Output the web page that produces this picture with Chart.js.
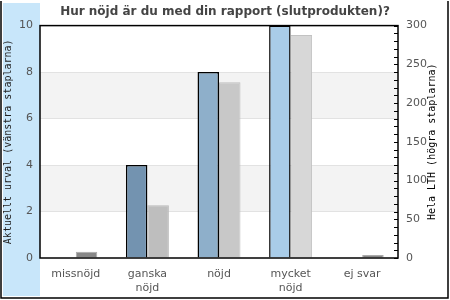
<!DOCTYPE html>
<html>
<head>
<meta charset="utf-8">
<script src="https://cdn.jsdelivr.net/npm/chart.js@4/dist/chart.umd.min.js"></script>
<style>
    html, body { margin: 0; padding: 0; background: #fff; }
    #chart { display: block; }
</style>
</head>
<body>
<canvas id="chart" width="450" height="300"></canvas>
<script>
// Data
var categories = [["missnöjd"], ["ganska", "nöjd"], ["nöjd"], ["mycket", "nöjd"], ["ej svar"]];
var urvalValues = [0, 4, 8, 10, 0];
var lthValues = [8, 68, 227, 288, 4];
var leftTicks = [0, 2, 4, 6, 8, 10];
var rightTicks = [0, 50, 100, 150, 200, 250, 300];

var urvalColors = ["#7393b0", "#7393b0", "#8eafca", "#a9cce8", "#a9cce8"];
var lthColors = ["#888888", "#bebebe", "#c8c8c8", "#d7d7d7", "#888888"];
var lthBorders = ["#aaaaaa", "#b9b9b9", "#bdbdbd", "#c2c2c2", "#aaaaaa"];

var textColor = "#555555";
var monoFont = "'DejaVu Sans Mono', monospace";
var sansFont = "'DejaVu Sans', sans-serif";

//Background, bands, frame and right title

var decorPlugin = {
    id: "decor",
    beforeDraw: function(chart) {
        var ctx = chart.ctx;
        var area = chart.chartArea;
        var y = chart.scales.y;
        ctx.save();
        ctx.fillStyle = "#c8e6fa";
        ctx.fillRect(3, 3, area.left - 3, chart.height - 7);
        // alternating bands
        ctx.fillStyle = "#f3f3f3";
        for (var i = 1; i < leftTicks.length - 1; i += 2) {
            var top = y.getPixelForValue(leftTicks[i + 1]);
            var bottom = y.getPixelForValue(leftTicks[i]);
            ctx.fillRect(area.left, top, area.right - area.left, bottom - top);
        }
        ctx.restore();
    },
    afterDraw: function(chart) {
        var ctx = chart.ctx;
        var area = chart.chartArea;
        var y2 = chart.scales.y2;
        ctx.save();
        // outer frame
        ctx.strokeStyle = "#000";
        ctx.lineWidth = 1.5;
        ctx.beginPath();
        ctx.moveTo(1, 1);
        ctx.lineTo(1, chart.height - 2);
        ctx.lineTo(chart.width - 2, chart.height - 2);
        ctx.lineTo(chart.width - 2, 1);
        ctx.stroke();
        // plot box
        ctx.lineWidth = 1.5;
        ctx.strokeRect(area.left, area.top, area.right - area.left, area.bottom - area.top);
        // inward minor ticks on the right axis
        ctx.lineWidth = 1;
        ctx.beginPath();
        for (var v = rightTicks[0]; v <= rightTicks[rightTicks.length - 1]; v += 10) {
            var py = Math.round(y2.getPixelForValue(v)) + 0.5;
            ctx.moveTo(area.right - 4, py);
            ctx.lineTo(area.right, py);
        }
        ctx.stroke();
        // right axis title, reading upwards
        ctx.fillStyle = "#000";
        ctx.font = "10px " + monoFont;
        ctx.textAlign = "center";
        ctx.textBaseline = "middle";
        ctx.translate(432, (area.top + area.bottom) / 2);
        ctx.rotate(-Math.PI / 2);
        ctx.fillText("Hela LTH (högra staplarna)", 0, 0);
        ctx.restore();
    }
};

var chart = new Chart(document.getElementById("chart"), {
    type: "bar",
    data: {
        labels: categories,
        datasets: [
            {
                label: "Aktuellt urval",
                data: urvalValues,
                yAxisID: "y",
                backgroundColor: urvalColors,
                borderColor: "#000",
                borderWidth: 1.5,
                borderSkipped: "start",
                categoryPercentage: 0.6,
                barPercentage: 1.0
            },
            {
                label: "Hela LTH",
                data: lthValues,
                yAxisID: "y2",
                backgroundColor: lthColors,
                borderColor: lthBorders,
                borderWidth: 1,
                borderSkipped: "start",
                categoryPercentage: 0.6,
                barPercentage: 1.0
            }
        ]
    },
    options: {
        responsive: false,
        animation: false,
        layout: { padding: 0 },
        plugins: {
            legend: { display: false },
            tooltip: { enabled: false },
            title: {
                display: true,
                text: "Hur nöjd är du med din rapport (slutprodukten)?",
                color: "#444",
                font: { family: sansFont, size: 12, weight: "bold" },
                padding: { top: 5, bottom: 6.2 }
            }
        },
        scales: {
            x: {
                grid: { display: false, drawTicks: false },
                border: { display: false },
                ticks: {
                    color: textColor,
                    font: { family: sansFont, size: 11 },
                    padding: 10,
                    maxRotation: 0
                },
                afterFit: function(scale) { scale.height = 42; }
            },
            y: {
                position: "left",
                min: 0,
                max: 10,
                ticks: {
                    stepSize: 2,
                    color: textColor,
                    font: { family: sansFont, size: 11 },
                    padding: 7
                },
                grid: {
                    drawTicks: false,
                    color: function(c) {
                        return (c.tick.value === 0 || c.tick.value === 10) ? "rgba(0,0,0,0)" : "#e2e2e2";
                    }
                },
                border: { display: false },
                title: {
                    display: true,
                    text: "Aktuellt urval (vänstra staplarna)",
                    color: "#222",
                    font: { family: monoFont, size: 10 },
                    padding: { top: 2, bottom: 0 }
                },
                afterFit: function(scale) { scale.width = 40; }
            },
            y2: {
                position: "right",
                min: 0,
                max: 300,
                ticks: {
                    stepSize: 50,
                    color: textColor,
                    font: { family: sansFont, size: 11 },
                    padding: 8
                },
                grid: { drawOnChartArea: false, drawTicks: false },
                border: { display: false },
                afterFit: function(scale) { scale.width = 52; }
            }
        }
    },
    plugins: [decorPlugin]
});
</script>
</body>
</html>
